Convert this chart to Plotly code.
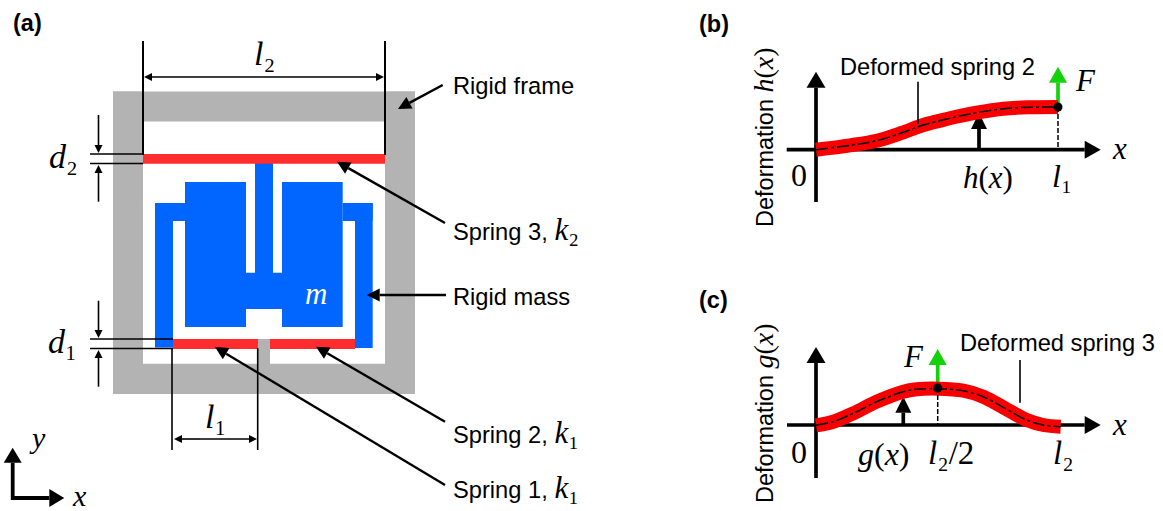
import math
import plotly.graph_objects as go

W, H = 1163, 511
GRAY, BLUE, SPRING_RED, CURVE_RED, GREEN = "#b3b3b3", "#0066ff", "#ff2d2d", "#f60000", "#14d20a"
SANS, SERIF = "Liberation Sans", "Liberation Serif"

# filled regions: (x0, y0, x1, y1)
FRAME_RECTS = [(113, 91.5, 415, 121.5), (113, 363.7, 415, 394), (113, 91.5, 143, 394),
               (385, 91.5, 415, 394), (258, 339, 270, 364)]
MASS_RECTS = [(185, 182, 246, 327), (282, 182, 342.7, 327), (246, 272.7, 282, 309),
              (255, 163, 273, 273), (155, 203, 185, 221), (155, 203, 173, 347.5),
              (342.7, 203, 372.7, 221), (355, 203, 372.7, 348)]
SPRING_RECTS = [(143, 154, 385, 163.7), (173, 339, 258, 349), (270, 339, 355, 349)]

# thin lines: (x0, y0, x1, y1, width)
DIM_LINES = [(143, 41, 143, 155, 2), (385, 41, 385, 155, 2),
             (90, 154, 143, 154, 1.6), (90, 163.5, 143, 163.5, 1.6),
             (90, 339, 173, 339, 1.6), (90, 348.5, 173, 348.5, 1.6),
             (172, 348, 172, 450, 1.6), (257.7, 348, 257.7, 450, 1.6),
             (918, 81.7, 918, 124, 1.6), (1020, 360, 1020, 402.7, 1.6)]

# arrows: (x_tail, y_tail, x_tip, y_tip, line width, head length, head width, colour)
ARROWS = [
    (200, 77, 144, 77, 1.6, 8, 8, "black"), (200, 77, 384, 77, 1.6, 8, 8, "black"),
    (98.5, 115, 98.5, 153, 1.6, 8, 8, "black"), (98.5, 201.7, 98.5, 165, 1.6, 8, 8, "black"),
    (98.5, 300.7, 98.5, 338, 1.6, 8, 8, "black"), (98.5, 386.7, 98.5, 350, 1.6, 8, 8, "black"),
    (200, 439, 174, 439, 1.6, 8, 8, "black"), (200, 439, 257, 439, 1.6, 8, 8, "black"),
    (442.7, 85, 398, 109, 2.4, 13, 13, "black"), (445, 223, 337, 161.7, 2.4, 13, 13, "black"),
    (446, 295, 366.7, 295, 2.4, 13, 13, "black"), (445, 421.7, 316, 346.7, 2.4, 13, 13, "black"),
    (445, 485, 215, 347, 2.4, 13, 13, "black"),
    (12.7, 499.8, 12.7, 447.7, 3.8, 15, 18, "black"), (11, 498, 64.3, 498, 3.8, 15, 18, "black"),
    (786.7, 149.7, 1100.7, 149.7, 3.7, 16, 18, "black"), (816, 202, 816, 71.7, 3.7, 16, 19, "black"),
    (979, 149, 979, 113, 3.7, 16, 16, "black"), (1058, 107, 1058, 66.7, 3.7, 16, 18, GREEN),
    (787, 425, 1100.7, 425, 3.7, 16, 18, "black"), (816, 478, 816, 347, 3.7, 16, 19, "black"),
    (903.3, 425, 903.3, 396.7, 3.7, 16, 16, "black"), (937.7, 386, 937.7, 349, 3.7, 16, 18, GREEN),
]

# deformed-spring centre lines
SPRING2_X = [816, 850, 876.7, 903.3, 923.3, 946.7, 976.7, 1003.3, 1030, 1058]
SPRING2_Y = [149.7, 145.3, 140.7, 132.3, 125, 119, 112.7, 108.7, 107.3, 107]
SPRING3_X = [816, 833.3, 853.3, 876.7, 903.3, 916.7, 938.3, 963.3, 983.3, 1006.7, 1026.7, 1043.3, 1060.7]
SPRING3_Y = [425.3, 421.7, 413.3, 401.7, 391.7, 389.3, 388.7, 390.7, 396.7, 409.3, 420, 425, 426.7]

DOTS_X, DOTS_Y = [1058, 937.7], [107, 388]
DASHED = [(1058, 107, 1058, 149), (937.7, 388, 937.7, 425)]

def mi(s, size=30):
    return f'<span style="font-family:{SERIF};font-size:{size}px">{s}</span>'

# labels: (text, x, y, size, family, colour, xanchor, angle)
LABELS = [
    ("<b>(a)</b>", 12, 23, 23.5, SANS, "black", "left", 0),
    ("<b>(b)</b>", 698, 24, 23.5, SANS, "black", "left", 0),
    ("<b>(c)</b>", 698, 300, 23.5, SANS, "black", "left", 0),
    ("<i>l</i>₂", 264, 53, 34, SERIF, "black", "center", 0),
    ("<i>d</i>₂", 63, 156, 34, SERIF, "black", "center", 0),
    ("<i>d</i>₁", 62, 341, 34, SERIF, "black", "center", 0),
    ("<i>l</i>₁", 215, 416, 34, SERIF, "black", "center", 0),
    ("<i>y</i>", 37, 437, 30, SERIF, "black", "center", 0),
    ("<i>x</i>", 79, 495, 30, SERIF, "black", "center", 0),
    ("<i>m</i>", 316, 293, 31, SERIF, "white", "center", 0),
    ("Rigid frame", 452, 86, 23.7, SANS, "black", "left", 0),
    ("Spring 3, " + mi("<i>k</i>₂", 31), 452, 229, 23.7, SANS, "black", "left", 0),
    ("Rigid mass", 452, 297, 23.7, SANS, "black", "left", 0),
    ("Spring 2, " + mi("<i>k</i>₁", 31), 452, 432, 23.7, SANS, "black", "left", 0),
    ("Spring 1, " + mi("<i>k</i>₁", 31), 452, 487, 23.7, SANS, "black", "left", 0),
    ("Deformed spring 2", 937.5, 67, 23.7, SANS, "black", "center", 0),
    ("Deformed spring 3", 1057, 343, 23.7, SANS, "black", "center", 0),
    ("Deformation " + mi("<i>h</i>(<i>x</i>)", 28), 763, 137, 23.5, SANS, "black", "center", -90),
    ("Deformation " + mi("<i>g</i>(<i>x</i>)", 28), 763, 413, 23.5, SANS, "black", "center", -90),
    ("0", 799, 175, 32, SERIF, "black", "center", 0),
    ("0", 799, 452, 32, SERIF, "black", "center", 0),
    ("<i>h</i>(<i>x</i>)", 988, 177, 31, SERIF, "black", "center", 0),
    ("<i>l</i>₁", 1062, 176, 32, SERIF, "black", "center", 0),
    ("<i>x</i>", 1119, 148, 31, SERIF, "black", "center", 0),
    ("<i>F</i>", 1085, 80, 31, SERIF, "black", "center", 0),
    ("<i>g</i>(<i>x</i>)", 883.5, 454, 32, SERIF, "black", "center", 0),
    ("<i>l</i>₂/2", 950.5, 453, 33, SERIF, "black", "center", 0),
    ("<i>l</i>₂", 1063, 453, 33, SERIF, "black", "center", 0),
    ("<i>x</i>", 1119, 424, 31, SERIF, "black", "center", 0),
    ("<i>F</i>", 913, 356, 31, SERIF, "black", "center", 0),
]

fig = go.Figure()

def add(x, y, **kw):
    fig.add_trace(go.Scatter(x=x, y=y, showlegend=False, hoverinfo="skip", **kw))

def add_rect(r, colour):
    x0, y0, x1, y1 = r
    add([x0, x1, x1, x0, x0], [y0, y0, y1, y1, y0], mode="none", fill="toself", fillcolor=colour)

def add_line(x, y, width, colour="black", dash=None, shape="linear"):
    add(x, y, mode="lines", line=dict(color=colour, width=width, dash=dash, shape=shape))

def add_arrow(a):
    xt, yt, xh, yh, lw, hl, hw, colour = a
    d = math.hypot(xh - xt, yh - yt)
    ux, uy = (xh - xt) / d, (yh - yt) / d
    bx, by = xh - ux * hl, yh - uy * hl
    add_line([xt, bx], [yt, by], lw, colour)
    add([xh, bx - uy * hw / 2, bx + uy * hw / 2, xh],
        [yh, by + ux * hw / 2, by - ux * hw / 2, yh],
        mode="none", fill="toself", fillcolor=colour)

for r in FRAME_RECTS:
    add_rect(r, GRAY)
for r in MASS_RECTS:
    add_rect(r, BLUE)
for r in SPRING_RECTS:
    add_rect(r, SPRING_RED)

for a in ARROWS[15:]:
    add_arrow(a)
add_line(SPRING2_X, SPRING2_Y, 14, CURVE_RED, shape="spline")
add_line(SPRING3_X, SPRING3_Y, 14, CURVE_RED, shape="spline")
for x0, y0, x1, y1, w in DIM_LINES:
    add_line([x0, x1], [y0, y1], w)
for a in ARROWS[:15]:
    add_arrow(a)
add_line(SPRING2_X, SPRING2_Y, 1.5, "black", dash="12px,3px,3px,3px", shape="spline")
add_line(SPRING3_X, SPRING3_Y, 1.5, "black", dash="12px,3px,3px,3px", shape="spline")
for x0, y0, x1, y1 in DASHED:
    add_line([x0, x1], [y0, y1], 1.5, "black", dash="5px,2px")
add(DOTS_X, DOTS_Y, mode="markers", marker=dict(color="black", size=9))

for text, x, y, size, family, colour, anchor, angle in LABELS:
    fig.add_annotation(x=x, y=y, text=text, showarrow=False, xanchor=anchor, yanchor="middle",
                       textangle=angle, font=dict(size=size, family=family, color=colour),
                       borderpad=0)

fig.update_layout(width=W, height=H, margin=dict(l=0, r=0, t=0, b=0), autosize=False,
                  paper_bgcolor="white", plot_bgcolor="white",
                  xaxis=dict(range=[0, W], visible=False, fixedrange=True),
                  yaxis=dict(range=[H, 0], visible=False, fixedrange=True))

fig.write_html("out.html", config={"displayModeBar": False},
               post_script="document.body.style.margin='0';document.body.style.overflow='hidden';")
